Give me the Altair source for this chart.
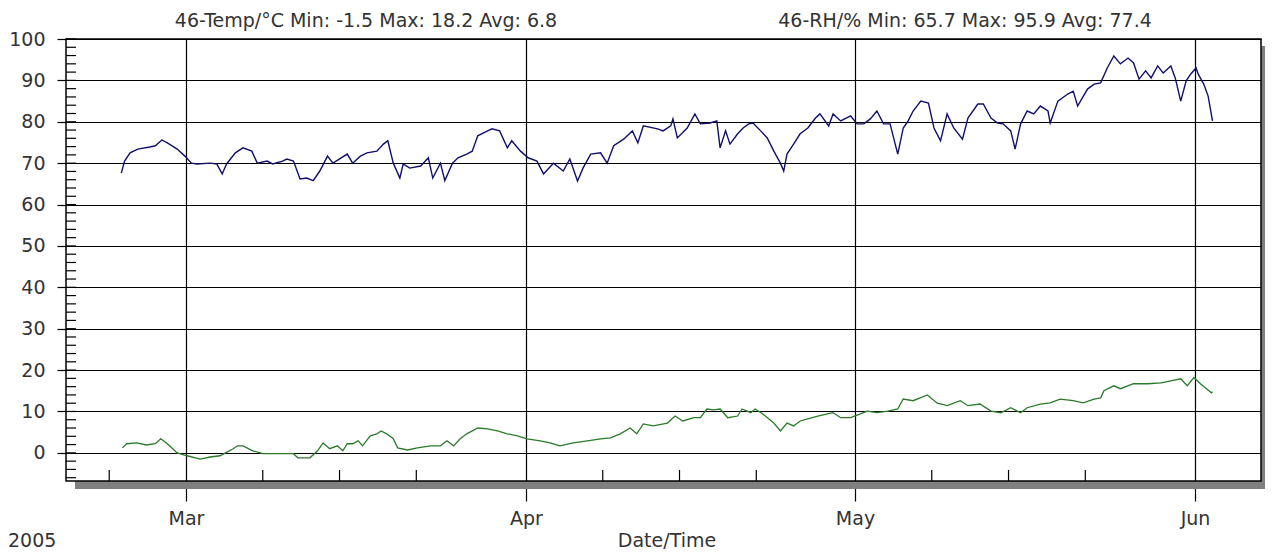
import altair as alt
import pandas as pd

# ---- data (days after 2005-03-01 00:00, values) ----
rh_day = [-5.9, -5.6, -5.1, -4.4, -3.3, -2.8, -2.2, -1.7, -0.8, -0.1,
          0.5, 1.0, 2.2, 2.8, 3.3, 3.7, 4.5, 5.2, 6.0, 6.5,
          7.4, 7.9, 8.8, 9.2, 9.8, 10.4, 11.0, 11.6, 12.2, 12.9,
          13.4, 14.7, 15.2, 15.9, 16.5, 17.4, 18.0, 18.4, 18.9, 19.5,
          19.8, 20.4, 21.4, 22.1, 22.5, 23.2, 23.6, 24.3, 24.8, 25.6,
          26.1, 26.6, 27.5, 27.9, 28.6, 29.3, 29.7, 30.5, 31.2, 32.0,
          32.6, 33.5, 34.4, 35.0, 35.7, 36.2, 36.9, 37.8, 38.4, 39.0,
          39.9, 40.7, 41.2, 41.7, 43.0, 43.5, 44.2, 44.4, 44.8, 45.7,
          46.4, 46.9, 47.8, 48.4, 48.7, 49.2, 49.6, 50.3, 50.8, 51.3,
          51.7, 52.4, 53.0, 53.6, 54.2, 54.5, 54.8, 55.4, 56.0, 56.7,
          57.4, 57.8, 58.6, 59.0, 59.7, 60.6, 61.2, 61.8, 62.4, 63.0,
          63.6, 64.2, 64.9, 65.4, 65.8, 66.3, 67.0, 67.7, 68.2, 68.8,
          69.4, 70.0, 70.8, 71.3, 72.2, 72.7, 73.4, 74.0, 74.5, 75.2,
          75.6, 76.1, 76.7, 77.3, 77.9, 78.6, 78.8, 79.5, 80.4, 80.9,
          81.3, 82.2, 82.8, 83.4, 84.0, 84.6, 85.2, 85.9, 86.4, 86.9,
          87.5, 88.0, 88.6, 89.1, 89.8, 90.2, 90.7, 91.2, 91.6, 92.1,
          92.3, 92.8, 93.2, 93.6]
rh_val = [67.6, 70.5, 72.5, 73.4, 73.9, 74.2, 75.6, 74.9, 73.4, 71.7,
          70.0, 69.8, 70.0, 69.8, 67.4, 69.8, 72.5, 73.7, 72.9, 70.0,
          70.5, 69.8, 70.5, 71.0, 70.5, 66.2, 66.4, 65.8, 68.1, 71.7,
          70.0, 72.2, 70.0, 71.7, 72.5, 72.9, 74.6, 75.4, 70.0, 66.4,
          69.8, 68.8, 69.3, 71.3, 66.4, 70.0, 65.8, 70.0, 71.3, 72.2,
          72.9, 76.6, 77.8, 78.3, 77.8, 73.7, 75.4, 72.9, 71.3, 70.5,
          67.4, 70.0, 68.1, 71.0, 65.7, 68.8, 72.2, 72.5, 70.0, 74.2,
          75.8, 77.8, 74.9, 79.0, 78.3, 77.8, 79.0, 80.7, 76.1, 78.5,
          81.9, 79.5, 79.7, 80.2, 73.7, 77.8, 74.6, 77.1, 78.5, 79.5,
          79.7, 77.8, 76.1, 72.9, 70.0, 68.1, 72.2, 74.6, 77.1, 78.5,
          80.9, 81.9, 79.0, 81.9, 80.2, 81.4, 79.5, 79.5, 80.7, 82.6,
          79.5, 79.5, 72.2, 78.5, 80.0, 82.6, 85.0, 84.5, 78.5, 75.4,
          81.9, 78.5, 75.8, 80.9, 84.3, 84.3, 80.9, 79.7, 79.5, 77.8,
          73.4, 79.5, 82.6, 81.9, 83.8, 82.6, 79.7, 85.0, 86.7, 87.4,
          83.8, 87.9, 89.1, 89.4, 93.0, 95.9, 94.0, 95.4, 94.2, 90.3,
          92.3, 90.6, 93.5, 91.8, 93.5, 90.6, 85.0, 89.9, 91.5, 93.0,
          91.5, 89.1, 86.2, 80.2]

temp_day = [-5.8, -5.4, -4.5, -3.6, -2.8, -2.3, -1.7, -0.8, 0.1, 1.3,
            2.2, 3.1, 3.6, 4.3, 4.7, 5.2, 6.1, 7.0, 9.8, 10.2,
            11.3, 12.0, 12.5, 13.1, 13.8, 14.3, 14.7, 15.2, 15.7, 16.1,
            16.8, 17.4, 17.8, 18.3, 18.9, 19.3, 20.2, 21.1, 22.3, 23.2,
            23.8, 24.4, 25.0, 25.6, 26.6, 27.5, 28.4, 29.3, 30.2, 31.1,
            32.3, 33.2, 34.1, 35.3, 36.6, 37.8, 38.7, 39.6, 40.5, 41.1,
            41.7, 42.6, 43.9, 44.6, 45.3, 46.3, 46.9, 47.5, 48.1, 48.7,
            49.4, 50.3, 50.7, 51.5, 51.9, 52.6, 53.6, 54.2, 54.8, 55.4,
            56.0, 56.7, 57.6, 58.5, 59.0, 59.7, 60.6, 61.5, 62.1, 63.0,
            64.0, 64.9, 65.4, 66.3, 67.6, 68.5, 69.4, 70.6, 71.3, 72.4,
            73.4, 74.3, 75.2, 76.1, 76.7, 77.9, 78.8, 79.7, 80.9, 81.8,
            82.8, 83.4, 83.7, 84.6, 85.2, 86.4, 87.7, 88.9, 89.8, 90.7,
            91.3, 91.9, 92.5, 93.5, 93.6]
temp_val = [1.2, 2.2, 2.4, 1.9, 2.2, 3.4, 2.2, 0.0, -0.7, -1.5,
            -1.0, -0.7, 0.0, 1.0, 1.7, 1.7, 0.5, -0.2, -0.2, -1.2,
            -1.2, 0.5, 2.4, 1.0, 1.7, 0.5, 2.2, 2.2, 2.9, 1.7,
            4.1, 4.6, 5.3, 4.6, 3.4, 1.2, 0.7, 1.2, 1.7, 1.7,
            2.9, 1.7, 3.4, 4.6, 6.0, 5.8, 5.3, 4.6, 4.1, 3.4,
            2.9, 2.4, 1.7, 2.4, 2.9, 3.4, 3.6, 4.6, 6.0, 4.6,
            7.0, 6.5, 7.2, 8.9, 7.7, 8.5, 8.5, 10.6, 10.4, 10.6,
            8.5, 8.9, 10.6, 9.7, 10.6, 9.4, 7.2, 5.3, 7.2, 6.5,
            7.7, 8.2, 8.9, 9.4, 9.7, 8.5, 8.5, 9.4, 10.1, 9.7,
            10.1, 10.6, 13.0, 12.6, 14.0, 12.0, 11.4, 12.6, 11.4, 11.8,
            10.1, 9.7, 10.9, 9.7, 10.9, 11.8, 12.1, 13.0, 12.6, 12.1,
            13.0, 13.3, 15.0, 16.2, 15.5, 16.7, 16.7, 16.9, 17.4, 17.9,
            16.2, 18.2, 16.7, 14.5, 14.8]

month_numbers = [3, 4, 5, 6]
minor_x_dates = ["2005-02-22", "2005-03-08", "2005-03-15", "2005-03-22",
                 "2005-04-08", "2005-04-15", "2005-04-22",
                 "2005-05-08", "2005-05-15", "2005-05-22"]
y_major = list(range(0, 101, 10))
y_minor = list(range(-6, 101, 2))

temp_title = "46-Temp/°C Min: -1.5 Max: 18.2 Avg: 6.8"
rh_title = "46-RH/% Min: 65.7 Max: 95.9 Avg: 77.4"
x_title = "Date/Time"
year_text = "2005"

# ---- build tables ----
BASE = pd.Timestamp("2005-03-01")


def to_dt(days):
    return [(BASE + pd.Timedelta(days=float(d))).strftime("%Y-%m-%dT%H:%M:%S") for d in days]


rh_df = pd.DataFrame({"t": to_dt(rh_day), "v": rh_val})
temp_df = pd.DataFrame({"t": to_dt(temp_day), "v": temp_val})
minor_x_df = pd.DataFrame({"t": [d + "T00:00:00" for d in minor_x_dates]})
minor_y_df = pd.DataFrame({"v": y_minor})
one = pd.DataFrame({"k": [0]})

W, H = 1195, 442
FONT = "DejaVu Sans"
FS = 19
TXT = "#333333"

x_scale = alt.Scale(domain=[alt.DateTime(year=2005, month=2, date=18, hours=1, minutes=24),
                            alt.DateTime(year=2005, month=6, date=7, hours=0, minutes=30)],
                    nice=False)
y_scale = alt.Scale(domain=[-6.8, 100], nice=False, zero=False)

x_axis = alt.Axis(values=[alt.DateTime(year=2005, month=m, date=1) for m in month_numbers],
                  format="%b", title=None, domain=False, grid=True, gridColor="black",
                  gridWidth=1.2, gridOpacity=1, tickColor="black", tickWidth=1.2,
                  tickSize=20, labelFont=FONT, labelFontSize=FS, labelColor=TXT,
                  labelPadding=8, labelFlush=False, labelOverlap=False)
y_axis = alt.Axis(values=y_major, title=None, domain=False, grid=True, gridColor="black",
                  gridWidth=1.2, gridOpacity=1, tickColor="black", tickWidth=1.2,
                  tickSize=9, labelFont=FONT, labelFontSize=FS, labelColor=TXT,
                  labelPadding=12, labelFlush=False)

X_T = alt.X("t:T", scale=x_scale, axis=x_axis)
Y_V = alt.Y("v:Q", scale=y_scale, axis=y_axis)

shadow_b = alt.Chart(one).mark_rect(color="#808080").encode(
    x=alt.value(9), x2=alt.value(W + 4), y=alt.value(H), y2=alt.value(H + 8))
shadow_r = alt.Chart(one).mark_rect(color="#808080").encode(
    x=alt.value(W), x2=alt.value(W + 4), y=alt.value(7), y2=alt.value(H + 8))

temp_line = alt.Chart(temp_df).mark_line(color="#2a7a2a", strokeWidth=1.3).encode(x=X_T, y=Y_V)
rh_line = alt.Chart(rh_df).mark_line(color="#10106a", strokeWidth=1.4).encode(x=X_T, y=Y_V)

minor_x = alt.Chart(minor_x_df).mark_rule(color="black", strokeWidth=1.2).encode(
    x=X_T, y=alt.value(H - 11), y2=alt.value(H))
minor_y = alt.Chart(minor_y_df).mark_rule(color="black", strokeWidth=1.2).encode(
    y=Y_V, x=alt.value(0), x2=alt.value(10))

frame = alt.Chart(one).mark_rect(fillOpacity=0, stroke="black", strokeWidth=1.5).encode(
    x=alt.value(0), x2=alt.value(W), y=alt.value(0), y2=alt.value(H))


def label(text, x, y, align="center", size=FS):
    return alt.Chart(pd.DataFrame({"s": [text]})).mark_text(
        font=FONT, fontSize=size, color=TXT, align=align, baseline="middle").encode(
        x=alt.value(x), y=alt.value(y), text="s:N")


chart = alt.layer(
    temp_line, rh_line, shadow_b, shadow_r, minor_x, minor_y, frame,
    label(temp_title, 300, -18), label(rh_title, 899, -18),
    label(x_title, 601, H + 60), label(year_text, -58, H + 60, align="left"),
).properties(
    width=W, height=H,
    padding={"left": 58, "top": 31, "right": 4, "bottom": 70},
    autosize=alt.AutoSizeParams(type="none"),
    background="white",
).configure_view(strokeWidth=0)

chart.save("out.html", embed_options={"renderer": "svg", "actions": False})
